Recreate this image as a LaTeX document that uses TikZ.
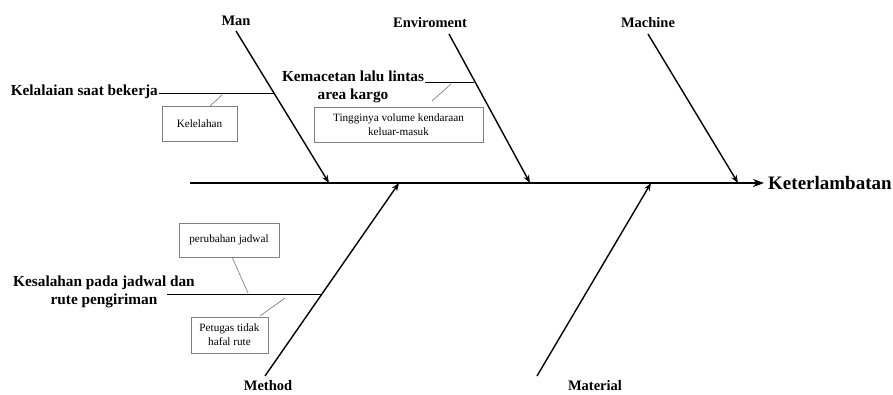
\documentclass[tikz,border=0pt]{standalone}
\usepackage{fontspec}
\setmainfont{Liberation Serif}
\usetikzlibrary{arrows.meta}
\begin{document}
\begin{tikzpicture}[x=1pt,y=-1pt,
  bone/.style={line width=1.4pt,-{Stealth[length=8pt,width=6pt]}},
  spine/.style={line width=1.8pt,-{Stealth[length=11pt,width=8pt]}},
  cause/.style={font=\fontsize{14.5}{16}\selectfont\bfseries,inner sep=1pt},
  branch/.style={line width=0.9pt},
  branchlbl/.style={font=\fontsize{15.3}{18}\selectfont\bfseries,align=center,inner sep=1pt},
  tick/.style={draw=gray,line width=0.7pt},
  subbox/.style={draw=gray,line width=0.8pt,font=\fontsize{11.2}{14}\selectfont,align=center,inner sep=2pt}
]
\useasboundingbox (0,0) rectangle (893,394);

% head of the fish
\coordinate (tail) at (190,183);
\coordinate (head) at (764,183);
\draw[spine] (tail) -- (head);
\node[anchor=west,font=\fontsize{19}{22}\selectfont\bfseries,inner sep=1pt] (effect) at (767,183) {Keterlambatan};

% main causes, top row
\node[cause] (man) at (236,21) {Man};
\node[cause] (env) at (430,23) {Enviroment};
\node[cause] (mach) at (648,23) {Machine};
\coordinate (manS) at (236,31);
\coordinate (manE) at (329,183);
\coordinate (envS) at (449,34);
\coordinate (envE) at (530,183);
\coordinate (machS) at (648,34);
\coordinate (machE) at (738,183);
\draw[bone] (manS) -- (manE);
\draw[bone] (envS) -- (envE);
\draw[bone] (machS) -- (machE);

% main causes, bottom row
\node[cause] (meth) at (268,386) {Method};
\node[cause] (mat) at (595,386) {Material};
\coordinate (methS) at (265,376);
\coordinate (methE) at (399,183);
\coordinate (matS) at (537,376);
\coordinate (matE) at (651,183);
\draw[bone] (methS) -- (methE);
\draw[bone] (matS) -- (matE);

% Man: Kelalaian saat bekerja
\node[branchlbl,anchor=east] (kel) at (159,92) {Kelalaian saat bekerja};
\coordinate (kelE) at (274,93);
\draw[branch] (kel.east |- kelE) -- (kelE);
\node[subbox,minimum width=75pt,minimum height=35pt] (lelah) at (199.5,123.5) {Kelelahan};
\coordinate (lelahT) at (222,95);
\draw[tick] (lelahT) -- (210,106);

% Enviroment: Kemacetan lalu lintas area kargo
\node[branchlbl] (macet) at (353,87) {Kemacetan lalu lintas\\area kargo};
\coordinate (macetS) at (425,82);
\coordinate (macetE) at (474,82);
\draw[branch] (macetS) -- (macetE);
\node[subbox,minimum width=169pt,minimum height=35pt] (volume) at (398.5,124.5) {Tingginya volume kendaraan\\keluar-masuk};
\draw[tick] (451,84) -- (432,101);

% Method: Kesalahan pada jadwal dan rute pengiriman
\node[branchlbl] (salah) at (104,292) {Kesalahan pada jadwal dan\\rute pengiriman};
\coordinate (salahS) at (167,294);
\coordinate (salahE) at (321,294);
\draw[branch] (salahS) -- (salahE);
\node[subbox,minimum width=100pt,minimum height=34pt] (jadwal) at (229,240) {perubahan jadwal};
\draw[tick] (232,257) -- (248,293);
\node[subbox,minimum width=77pt,minimum height=36pt] (rute) at (229.5,335) {Petugas tidak\\hafal rute};
\draw[tick] (285,298) -- (260,316);
\end{tikzpicture}
\end{document}
